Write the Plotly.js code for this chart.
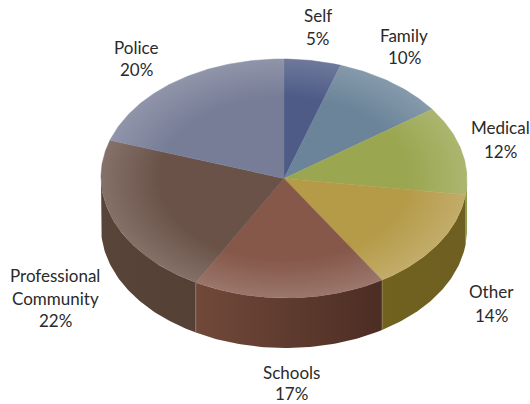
<!DOCTYPE html>
<html><head><meta charset="utf-8">
<script src="https://cdn.plot.ly/plotly-3.0.1.min.js"></script>
<style>html,body{margin:0;padding:0;background:#fff}</style></head>
<body><div id="chart" style="width:530px;height:404px"></div>
<script>
const categories = ["Self","Family","Medical","Other","Schools","Professional Community","Police"];
const shares = [5,10,12,14,17,22,20];
const topColors = ["#4e5b86","#6b8499","#9aa650","#b59a48","#85584a","#6a5248","#777d97"];
const wallLeft = ["#4e5b86","#6b8499","#8a9a48","#72621f","#71493a","#584438","#777d97"];
const wallRight = ["#4e5b86","#6b8499","#8a9a48","#6e5f22","#4c2d23","#544034","#777d97"];
const labelX = [318,404,500,491,291,55,136];
const labelY = [[15,38],[35,57],[127,151],[291,315],[372,393.5],[275,298,320],[47,69]];
const labelLines = [["Self"],["Family"],["Medical"],["Other"],["Schools"],["Professional","Community"],["Police"]];

const cx=284, cy=178.5, rx=183, ry=119.5, depth=50, tilt=0.007;
const pt=a=>{const x=rx*Math.sin(a);return [cx+x, cy-ry*Math.cos(a)+tilt*x];};
const total=shares.reduce((a,b)=>a+b,0);
const traces=[], annotations=[];
let cum=0;
const slices=shares.map(v=>{const s=cum/total*2*Math.PI; cum+=v; return [s,cum/total*2*Math.PI];});
function arc(a0,a1){const n=Math.max(2,Math.ceil(Math.abs(a1-a0)*60));const out=[];for(let i=0;i<=n;i++)out.push(pt(a0+(a1-a0)*i/n));return out;}

// side walls (visible between 90 and 270 degrees)
slices.forEach(([s,e],i)=>{
  const a0=Math.max(s,Math.PI/2), a1=Math.min(e,1.5*Math.PI);
  if(a1<=a0) return;
  const top=arc(a0,a1);
  const poly=top.concat(top.slice().reverse().map(p=>[p[0],p[1]+depth]));
  poly.push(top[0]);
  traces.push({type:"scatter",mode:"lines",x:poly.map(p=>p[0]),y:poly.map(p=>p[1]),fill:"toself",
    line:{width:0,color:wallLeft[i]},hoverinfo:"skip",
    fillcolor:wallLeft[i],
    fillgradient:{type:"horizontal",colorscale:[[0,wallLeft[i]],[1,wallRight[i]]]}});
});
// wall seams
[slices[3][1],slices[4][1]].forEach(a=>{
  const p=pt(a);
  traces.push({type:"scatter",mode:"lines",x:[p[0],p[0]],y:[p[1],p[1]+depth],line:{width:0.6,color:"rgba(215,205,190,0.5)"},hoverinfo:"skip"});
});
// top faces
slices.forEach(([s,e],i)=>{
  const poly=[[cx,cy]].concat(arc(s,e));poly.push([cx,cy]);
  traces.push({type:"scatter",mode:"lines",x:poly.map(p=>p[0]),y:poly.map(p=>p[1]),fill:"toself",
    fillcolor:topColors[i],line:{width:0.4,color:topColors[i]},hoverinfo:"skip"});
});
// rim sheen over the whole top ellipse
const ring=arc(0,2*Math.PI);
traces.push({type:"scatter",mode:"lines",x:ring.map(p=>p[0]),y:ring.map(p=>p[1]),fill:"toself",
  line:{width:0,color:"rgba(255,255,255,0)"},hoverinfo:"skip",
  fillgradient:{type:"radial",colorscale:[[0,"rgba(255,255,255,0)"],[0.68,"rgba(255,255,255,0)"],[1,"rgba(255,255,255,0.18)"]]}});

labelLines.forEach((lines,i)=>{
  const all=lines.concat([shares[i]+"%"]);
  all.forEach((t,j)=>annotations.push({x:labelX[i],y:labelY[i][j],text:t,showarrow:false,xanchor:"center",yanchor:"middle",borderpad:0,
    font:{family:"Lato, sans-serif",size:17,color:"#2a2a2a"}}));
});

Plotly.newPlot("chart",traces,{
  width:530,height:404,margin:{l:0,r:0,t:0,b:0},showlegend:false,
  paper_bgcolor:"#fff",plot_bgcolor:"#fff",
  xaxis:{range:[0,530],visible:false,fixedrange:true},
  yaxis:{range:[404,0],visible:false,fixedrange:true},
  annotations
},{displayModeBar:false,staticPlot:true});
</script></body></html>
